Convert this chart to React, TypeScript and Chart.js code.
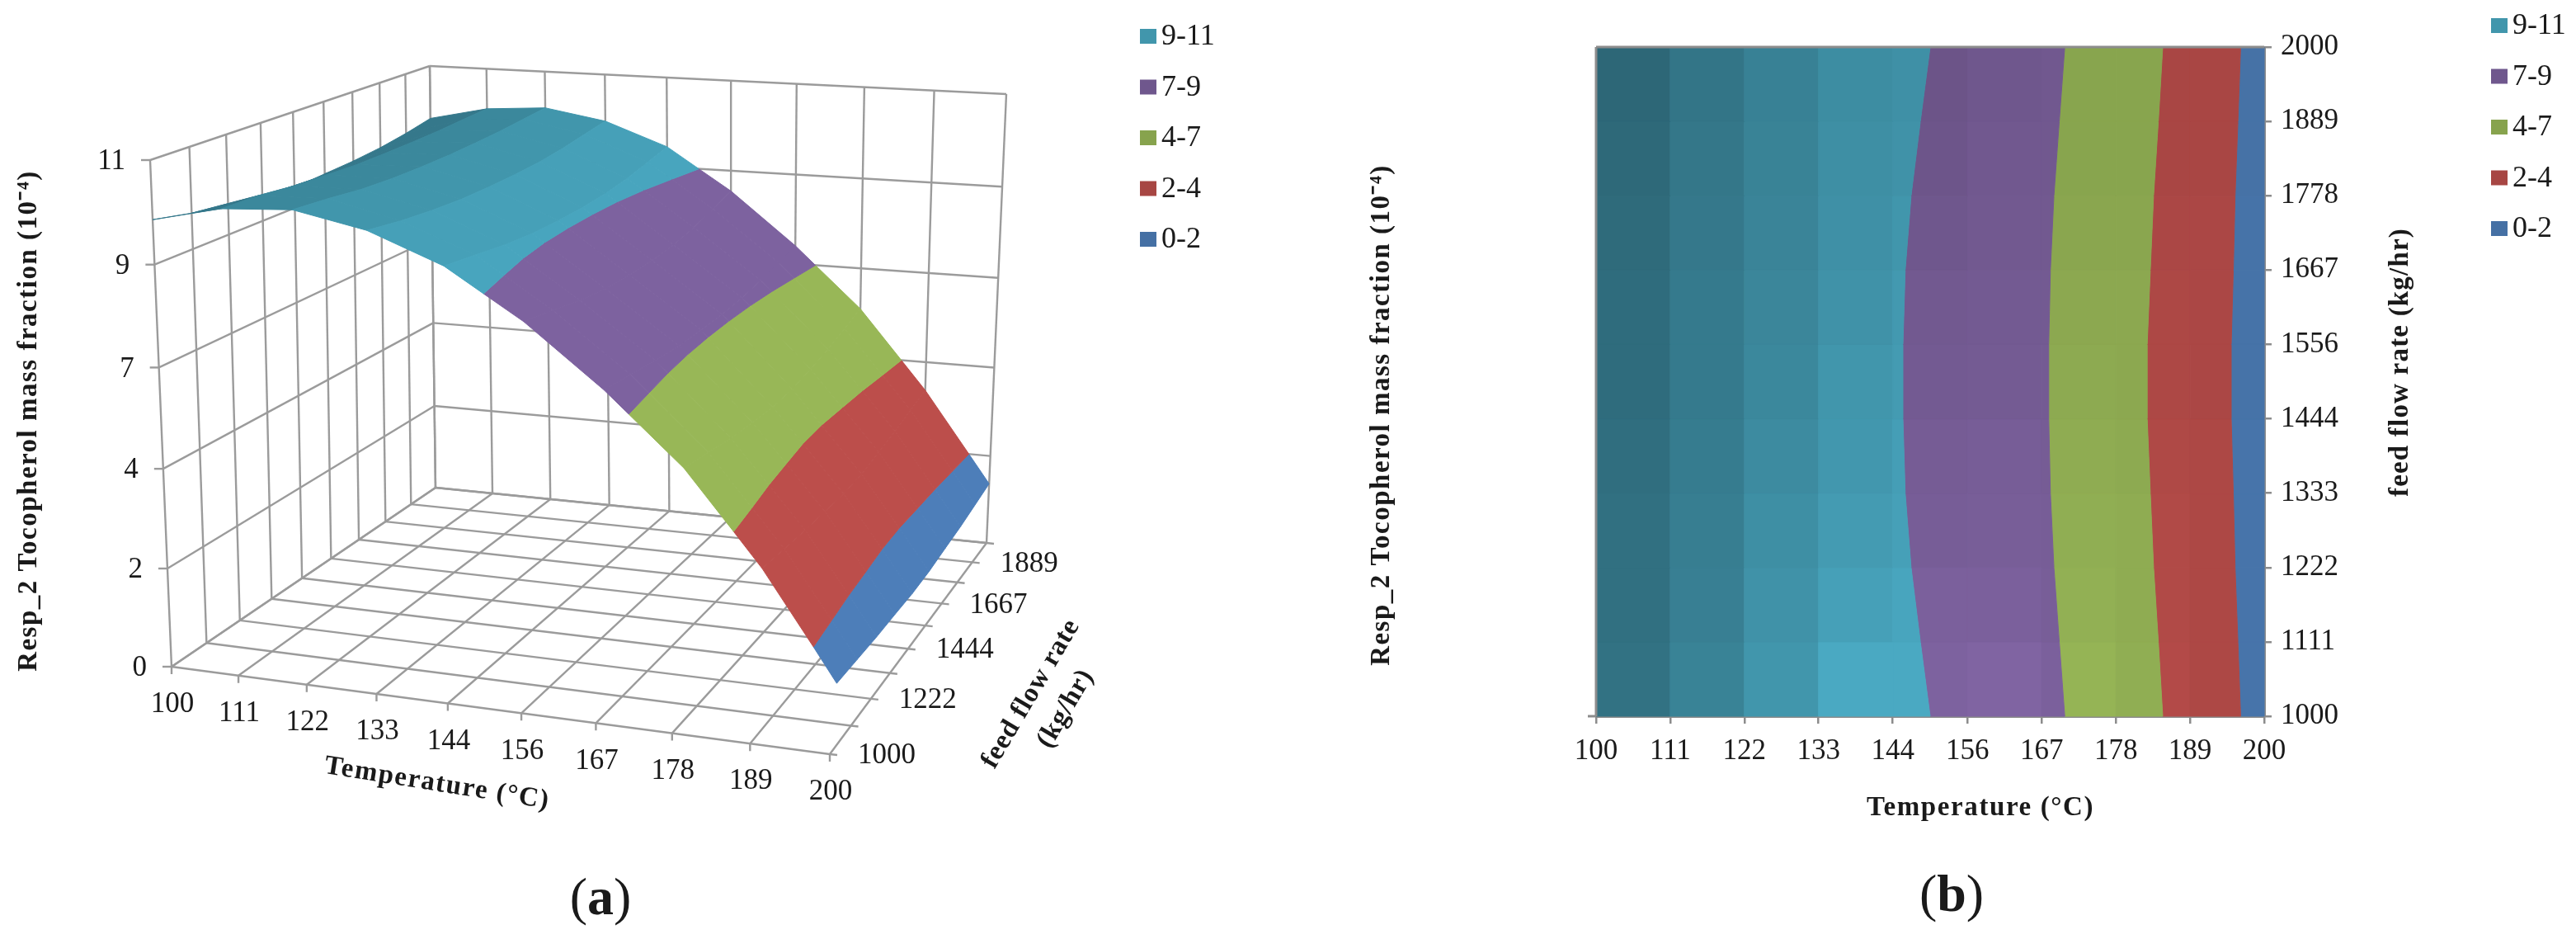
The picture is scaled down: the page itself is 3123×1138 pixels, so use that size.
import React, { useEffect, useRef } from "react";
import { Chart, registerables } from "chart.js";

Chart.register(...registerables);

const temperature = [100, 111.1, 122.2, 133.3, 144.4, 155.6, 166.7, 177.8, 188.9, 200];
const feedRate = [1000, 1111.1, 1222.2, 1333.3, 1444.4, 1555.6, 1666.7, 1777.8, 1888.9, 2000];
// rows follow feedRate, columns follow temperature
const massFraction = [
  [9.75, 10.1, 10.2, 9.9, 9.3, 8.3, 7.05, 5.6, 3.7, 1.5],
  [9.58, 10.07, 10.12, 9.77, 9.18, 8.15, 6.95, 5.47, 3.6, 1.43],
  [9.4, 9.98, 10.02, 9.68, 9.06, 8.0, 6.85, 5.33, 3.5, 1.36],
  [9.36, 9.94, 9.97, 9.62, 8.98, 7.9, 6.78, 5.24, 3.43, 1.32],
  [9.28, 9.9, 9.95, 9.6, 8.95, 7.85, 6.75, 5.16, 3.36, 1.27],
  [9.32, 9.9, 9.95, 9.6, 8.95, 7.85, 6.75, 5.16, 3.36, 1.27],
  [9.36, 9.91, 9.97, 9.62, 8.98, 7.9, 6.78, 5.24, 3.43, 1.32],
  [9.43, 9.93, 10.0, 9.68, 9.06, 8.0, 6.85, 5.33, 3.5, 1.36],
  [9.54, 9.97, 10.05, 9.77, 9.18, 8.15, 6.95, 5.47, 3.6, 1.43],
  [9.68, 10.0, 10.1, 9.85, 9.3, 8.3, 7.05, 5.6, 3.7, 1.5],
];
const bandLevels = [0, 2.2, 4.4, 6.6, 8.8, 11];
const bandNames = ["0-2", "2-4", "4-7", "7-9", "9-11"];
const bandRgb = [
  [79, 129, 189],
  [192, 80, 77],
  [155, 187, 89],
  [128, 100, 162],
  [75, 172, 198],
];
const zTicks = [0, 2.2, 4.4, 6.6, 8.8, 11];
const zLabels = ["0", "2", "4", "7", "9", "11"];
const feedLabels3d = [1000, 1222.2, 1444.4, 1666.7, 1888.9];
const surfaceShade = [0.7, 0.79, 0.87, 0.93, 0.96, 0.98, 1.0, 0.99, 0.97];
// contour cell brightness: rows from low feed rate upward, columns by temperature interval
const contourShade = [
  [0.66, 0.76, 0.87, 0.98, 0.98, 1.0, 0.96, 0.93, 0.9],
  [0.65, 0.74, 0.85, 0.93, 0.96, 0.96, 0.94, 0.92, 0.9],
  [0.65, 0.73, 0.83, 0.9, 0.93, 0.94, 0.93, 0.92, 0.9],
  [0.64, 0.72, 0.81, 0.88, 0.92, 0.93, 0.92, 0.91, 0.9],
  [0.63, 0.71, 0.79, 0.87, 0.9, 0.91, 0.91, 0.9, 0.89],
  [0.63, 0.71, 0.78, 0.85, 0.89, 0.9, 0.9, 0.9, 0.89],
  [0.62, 0.7, 0.77, 0.84, 0.87, 0.89, 0.89, 0.89, 0.89],
  [0.61, 0.69, 0.76, 0.83, 0.85, 0.88, 0.88, 0.88, 0.88],
  [0.6, 0.68, 0.75, 0.82, 0.84, 0.87, 0.88, 0.88, 0.88],
];

const SERIF = '"Liberation Serif"';
const GRID = "#9b9b9b";
const AXIS = "#8c8c8c";
const W = 3123;
const H = 1138;
const SPLIT = 1560;

const rgb = (c: number[], k: number) => `rgb(${c.map((v) => Math.round(v * k)).join(",")})`;

type P = [number, number];
function quadMap(p0: P, p1: P, p2: P, p3: P) {
  const dx1 = p1[0] - p2[0], dx2 = p3[0] - p2[0], sx = p0[0] - p1[0] + p2[0] - p3[0];
  const dy1 = p1[1] - p2[1], dy2 = p3[1] - p2[1], sy = p0[1] - p1[1] + p2[1] - p3[1];
  const den = dx1 * dy2 - dx2 * dy1;
  const g = (sx * dy2 - dx2 * sy) / den, h = (dx1 * sy - sx * dy1) / den;
  const a = p1[0] - p0[0] + g * p1[0], b = p3[0] - p0[0] + h * p3[0];
  const d = p1[1] - p0[1] + g * p1[1], e = p3[1] - p0[1] + h * p3[1];
  return (u: number, v: number): P => {
    const q = g * u + h * v + 1;
    return [(a * u + b * v + p0[0]) / q, (d * u + e * v + p0[1]) / q];
  };
}
const floorMap = quadMap([208, 808], [1006, 914], [1196, 658], [528, 591]);
const ceilMap = quadMap([182, 194], [1070, 263], [1220, 114], [521, 80]);
function project(T: number, F: number, Z: number) {
  const u = (T - 100) / 100, v = (F - 1000) / 1000, w = Z / 11;
  const a = floorMap(u, v), b = ceilMap(u, v);
  const f = w / (w + (1 - w) * 1.04);
  return { x: a[0] + (b[0] - a[0]) * f, y: a[1] + (b[1] - a[1]) * f };
}

type V = { T: number; F: number; Z: number };
function clipBand(poly: V[], level: number, keepAbove: boolean) {
  const out: V[] = [];
  for (let i = 0; i < poly.length; i++) {
    const a = poly[i], b = poly[(i + 1) % poly.length];
    const ina = keepAbove ? a.Z >= level : a.Z <= level;
    const inb = keepAbove ? b.Z >= level : b.Z <= level;
    if (ina) out.push(a);
    if (ina !== inb) {
      const t = (level - a.Z) / (b.Z - a.Z);
      out.push({ T: a.T + (b.T - a.T) * t, F: a.F + (b.F - a.F) * t, Z: level });
    }
  }
  return out;
}
function cellBands(r: number, c: number) {
  const quad: V[] = [
    { T: temperature[c], F: feedRate[r], Z: massFraction[r][c] },
    { T: temperature[c + 1], F: feedRate[r], Z: massFraction[r][c + 1] },
    { T: temperature[c + 1], F: feedRate[r + 1], Z: massFraction[r + 1][c + 1] },
    { T: temperature[c], F: feedRate[r + 1], Z: massFraction[r + 1][c] },
  ];
  const res: { band: number; poly: V[] }[] = [];
  bandNames.forEach((_, b) => {
    const up = clipBand(quad, bandLevels[b], true);
    if (up.length < 3) return;
    const poly = clipBand(up, bandLevels[b + 1], false);
    if (poly.length >= 3) res.push({ band: b, poly });
  });
  return res;
}

const polygonPlugin = {
  id: "polygonFill",
  beforeDatasetDraw(chart: any, args: any) {
    const ds = chart.data.datasets[args.index];
    if (!ds.polygonFill) return;
    const ctx = chart.ctx;
    ctx.save();
    ctx.beginPath();
    args.meta.data.forEach((p: any, i: number) => (i ? ctx.lineTo(p.x, p.y) : ctx.moveTo(p.x, p.y)));
    ctx.closePath();
    ctx.fillStyle = ds.polygonFill;
    ctx.strokeStyle = ds.polygonFill;
    ctx.lineWidth = 1;
    ctx.fill();
    ctx.stroke();
    ctx.restore();
  },
};

function drawText(ctx: any, text: string, x: number, y: number, font: string, angle = 0, align = "center", spacing = "0px") {
  ctx.save();
  ctx.translate(x, y);
  ctx.rotate((angle * Math.PI) / 180);
  ctx.font = font;
  ctx.fillStyle = "#1a1a1a";
  ctx.textAlign = align;
  ctx.textBaseline = "middle";
  ctx.letterSpacing = spacing;
  ctx.fillText(text, 0, 0);
  ctx.restore();
}
function drawLegend(ctx: any, left: number, top: number) {
  [...bandNames].reverse().forEach((name, i) => {
    const y = top + i * 61.5;
    ctx.fillStyle = rgb(bandRgb[4 - i], 0.87);
    ctx.fillRect(left, y - 9, 20, 18);
    drawText(ctx, name, left + 26, y + 1, `36px ${SERIF}`, 0, "left");
  });
}
function drawCaption(ctx: any, letter: string, cx: number, y: number) {
  ctx.save();
  ctx.font = `64px ${SERIF}`;
  const paren = ctx.measureText("(").width;
  ctx.font = `bold 64px ${SERIF}`;
  const lw = ctx.measureText(letter).width;
  ctx.restore();
  const start = cx - (2 * paren + lw) / 2;
  drawText(ctx, "(", start, y, `64px ${SERIF}`, 0, "left");
  drawText(ctx, letter, start + paren, y, `bold 64px ${SERIF}`, 0, "left");
  drawText(ctx, ")", start + paren + lw, y, `64px ${SERIF}`, 0, "left");
}

const TITLE_Z = "Resp_2 Tocopherol mass fraction (10\u207B\u2074)";
const TITLE_FONT = `bold 33px ${SERIF}`;

function surfaceConfig() {
  const layers: any[] = [];
  const seg = (a: any, b: any, color = GRID, width = 2.4) =>
    layers.push({ data: [a, b], showLine: true, borderColor: color, borderWidth: width, pointRadius: 0, clip: false });
  temperature.forEach((t) => {
    seg(project(t, 1000, 0), project(t, 2000, 0));
    seg(project(t, 2000, 0), project(t, 2000, 11));
    const f = project(t, 1000, 0);
    seg(f, { x: f.x, y: f.y + 9 });
  });
  feedRate.forEach((f) => {
    seg(project(100, f, 0), project(200, f, 0));
    seg(project(100, f, 0), project(100, f, 11));
    const e = project(200, f, 0);
    seg(e, { x: e.x + 9, y: e.y + 1 });
  });
  zTicks.forEach((z) => {
    seg(project(100, 2000, z), project(200, 2000, z));
    seg(project(100, 1000, z), project(100, 2000, z));
    const e = project(100, 1000, z);
    seg(e, { x: e.x - 11, y: e.y });
  });
  for (let r = feedRate.length - 2; r >= 0; r--) {
    for (let c = 0; c < temperature.length - 1; c++) {
      cellBands(r, c).forEach(({ band, poly }) => {
        layers.push({
          data: poly.map((v) => project(v.T, v.F, v.Z)),
          polygonFill: rgb(bandRgb[band], band === 4 ? surfaceShade[c] : 0.98),
          showLine: false,
          pointRadius: 0,
          clip: false,
        });
      });
    }
  }
  layers.forEach((d, i) => (d.order = layers.length - i));
  const annotate = {
    id: "surfaceText",
    afterDraw(chart: any) {
      const ctx = chart.ctx;
      const tick = `35px ${SERIF}`;
      temperature.forEach((t) => {
        const p = project(t, 1000, 0);
        drawText(ctx, String(Math.round(t)), p.x + 1, p.y + 46, tick);
      });
      feedLabels3d.forEach((f) => {
        const p = project(200, f, 0);
        drawText(ctx, String(Math.round(f)), p.x + 69, p.y + 2, tick);
      });
      zTicks.forEach((z, i) => {
        const p = project(100, 1000, z);
        drawText(ctx, zLabels[i], p.x - 30, p.y + 2, tick, 0, "right");
      });
      drawText(ctx, TITLE_Z, 35, 510, TITLE_FONT, -90, "center", "1.5px");
      drawText(ctx, "Temperature (\u00B0C)", 530, 950, TITLE_FONT, 9, "center", "1.6px");
      drawText(ctx, "feed flow rate", 1250, 841, TITLE_FONT, -59.4, "center", "0.8px");
      drawText(ctx, "(kg/hr)", 1292, 859, TITLE_FONT, -59.4, "center", "0.8px");
      drawLegend(ctx, 1382, 44);
      drawCaption(ctx, "a", 728, 1091);
    },
  };
  return {
    type: "scatter",
    data: { datasets: layers },
    plugins: [polygonPlugin, annotate],
    options: {
      animation: false,
      responsive: false,
      devicePixelRatio: 1,
      layout: { padding: 0 },
      plugins: { legend: { display: false }, tooltip: { enabled: false } },
      scales: {
        x: { type: "linear", min: 0, max: SPLIT, display: false },
        y: { type: "linear", min: 0, max: H, reverse: true, display: false },
      },
    },
  };
}

function contourConfig() {
  const layers: any[] = [];
  for (let r = 0; r < feedRate.length - 1; r++) {
    for (let c = 0; c < temperature.length - 1; c++) {
      cellBands(r, c).forEach(({ band, poly }) => {
        layers.push({
          data: poly.map((v) => ({ x: v.T, y: v.F })),
          polygonFill: rgb(bandRgb[band], contourShade[r][c]),
          showLine: false,
          pointRadius: 0,
          clip: false,
        });
      });
    }
  }
  const edge = (data: any[]) =>
    layers.push({ data, showLine: true, borderColor: AXIS, borderWidth: 3, pointRadius: 0, clip: false });
  edge([{ x: 100, y: 2000 }, { x: 200, y: 2000 }]);
  edge([{ x: 100, y: 1000 }, { x: 100, y: 2000 }]);
  layers.forEach((d, i) => (d.order = layers.length - i));
  const annotate = {
    id: "contourText",
    afterDraw(chart: any) {
      const ctx = chart.ctx;
      ctx.save();
      ctx.strokeStyle = AXIS;
      ctx.lineWidth = 3;
      ctx.beginPath();
      const x0 = chart.scales.x.getPixelForValue(100), y0 = chart.scales.y.getPixelForValue(1000);
      ctx.moveTo(x0 - 10, y0);
      ctx.lineTo(x0, y0);
      ctx.stroke();
      ctx.restore();
      drawText(ctx, TITLE_Z, 1675 - SPLIT, 503, TITLE_FONT, -90, "center", "1.5px");
      drawText(ctx, "Temperature (\u00B0C)", 2401 - SPLIT, 979, TITLE_FONT, 0, "center", "1.6px");
      drawText(ctx, "feed flow rate (kg/hr)", 2910 - SPLIT, 439, TITLE_FONT, -90, "center", "1.2px");
      drawLegend(ctx, 3020 - SPLIT, 31);
      drawCaption(ctx, "b", 2366 - SPLIT, 1087);
    },
  };
  const tickFont = { family: SERIF, size: 35 };
  return {
    type: "scatter",
    data: { datasets: layers },
    plugins: [polygonPlugin, annotate],
    options: {
      animation: false,
      responsive: false,
      devicePixelRatio: 1,
      layout: { padding: { left: 375, top: 57, right: 0, bottom: 0 } },
      plugins: { legend: { display: false }, tooltip: { enabled: false } },
      scales: {
        x: {
          type: "linear",
          min: 100,
          max: 200,
          afterBuildTicks(s: any) { s.ticks = temperature.map((value) => ({ value })); },
          afterFit(s: any) { s.height = 270; },
          ticks: { font: tickFont, color: "#1a1a1a", padding: 13, maxRotation: 0, autoSkip: false, callback: (v: any) => String(Math.round(v)) },
          grid: { drawOnChartArea: false, color: AXIS, lineWidth: 2.5, tickLength: 9 },
          border: { color: AXIS, width: 3 },
        },
        y: {
          type: "linear",
          position: "right",
          min: 1000,
          max: 2000,
          afterBuildTicks(s: any) { s.ticks = feedRate.map((value) => ({ value })); },
          afterFit(s: any) { s.width = 378; },
          ticks: { font: tickFont, color: "#1a1a1a", padding: 11, autoSkip: false, callback: (v: any) => String(Math.round(v)) },
          grid: { drawOnChartArea: false, color: AXIS, lineWidth: 2.5, tickLength: 9 },
          border: { color: AXIS, width: 3 },
        },
      },
    },
  };
}

function Panel({ left, width, make }: { left: number; width: number; make: () => any }) {
  const ref = useRef<HTMLCanvasElement>(null);
  useEffect(() => {
    const chart = new Chart(ref.current as any, make());
    return () => chart.destroy();
  }, []);
  return <canvas ref={ref} width={width} height={H} style={{ position: "absolute", left, top: 0, display: "block", width, height: H }} />;
}

export default function App() {
  return (
    <div style={{ position: "absolute", left: 0, top: 0, width: W, height: H, background: "#fff", overflow: "hidden" }}>
      <Panel left={0} width={SPLIT} make={surfaceConfig} />
      <Panel left={SPLIT} width={W - SPLIT} make={contourConfig} />
    </div>
  );
}
